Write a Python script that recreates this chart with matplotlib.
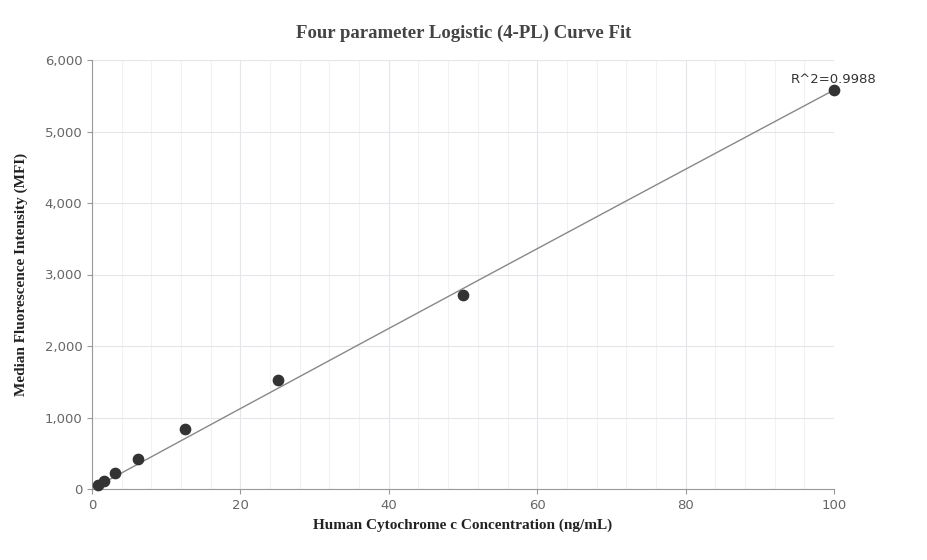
import numpy as np
import matplotlib
matplotlib.use("Agg")
import matplotlib.pyplot as plt
from matplotlib.ticker import FuncFormatter, MultipleLocator

conc = [0.78, 1.56, 3.125, 6.25, 12.5, 25, 50, 100]
mfi = [56, 112, 224, 420, 839, 1524, 2713, 5580]
# 4PL fit parameters (A, B, C, D)
A, B, C, D = 0.0, 1.0, 1e4, 563580.0
r2_label = "R^2=0.9988"

fig = plt.figure(figsize=(9.27, 5.6), dpi=100)
ax = fig.add_axes([92/927, 1-489/560, (834-92)/927, (489-60)/560])
xs = np.linspace(0.78, 100, 300)
ys = D + (A - D) / (1 + (xs / C) ** B)
ax.plot(xs, ys, color="#888888", lw=1, zorder=2)
ax.scatter(conc, mfi, s=55, color="#333333", zorder=3, clip_on=False)
ax.annotate(r2_label, (100, 5580), xytext=(0, 3), textcoords="offset points",
            ha="center", va="bottom", fontsize=9.5, color="#333333", family="DejaVu Sans")
ax.set_xlim(0, 100)
ax.set_ylim(0, 6000)
ax.xaxis.set_major_locator(MultipleLocator(20))
ax.xaxis.set_minor_locator(MultipleLocator(4))
ax.yaxis.set_major_locator(MultipleLocator(1000))
ax.yaxis.set_major_formatter(FuncFormatter(lambda v, p: f"{int(v):,}"))
ax.grid(True, which="major", color="#e3e6ec", lw=0.8)
ax.grid(True, which="minor", axis="x", color="#f0f2f6", lw=0.8)
ax.set_axisbelow(True)
for s in ["top", "right"]:
    ax.spines[s].set_visible(False)
for s in ["left", "bottom"]:
    ax.spines[s].set_color("#999999")
ax.tick_params(which="both", colors="#999999", labelcolor="#666666", labelsize=9.5)
ax.tick_params(which="minor", length=0)
ax.set_xlabel("Human Cytochrome c Concentration (ng/mL)", family="Liberation Serif",
              fontweight="bold", fontsize=11, color="#222222", labelpad=5)
ax.set_ylabel("Median Fluorescence Intensity (MFI)", family="Liberation Serif",
              fontweight="bold", fontsize=11, color="#222222", labelpad=12)
fig.text(464/927, 1-33/560, "Four parameter Logistic (4-PL) Curve Fit", ha="center", va="center",
         family="Liberation Serif", fontweight="bold", fontsize=13.5, color="#444444")
fig.savefig("out.png", dpi=100)
